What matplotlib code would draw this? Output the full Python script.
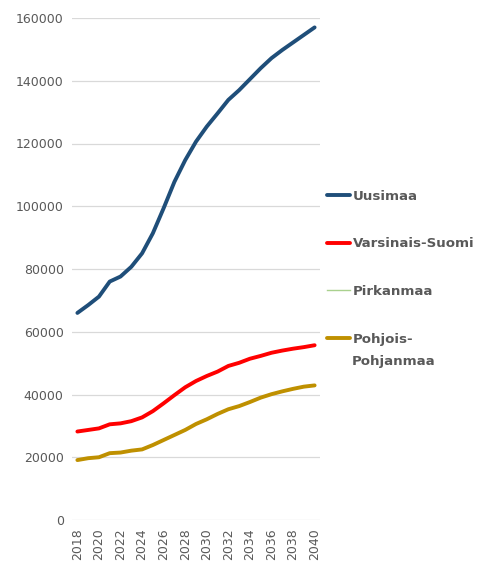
import matplotlib
matplotlib.use('Agg')
import matplotlib.pyplot as plt

years = list(range(2018, 2041))
uusimaa = [66000, 68500, 71200, 76000, 77600, 80700, 85000, 91400, 99400, 107800,
           114700, 120600, 125400, 129600, 133900, 137000, 140500, 144000, 147200,
           149800, 152200, 154600, 157000]
varsinais_suomi = [28200, 28700, 29200, 30500, 30800, 31500, 32700, 34700, 37200, 39800,
                   42300, 44300, 45900, 47300, 49100, 50100, 51400, 52300, 53300,
                   54000, 54600, 55100, 55700]
pirkanmaa = []
pohjois_pohjanmaa = [19100, 19700, 20000, 21300, 21500, 22100, 22500, 23900, 25500, 27100,
                     28700, 30600, 32100, 33800, 35300, 36300, 37600, 39000, 40100,
                     41000, 41800, 42500, 42900]
yticks = [0, 20000, 40000, 60000, 80000, 100000, 120000, 140000, 160000]
xticks = list(range(2018, 2041, 2))

grey = '#595959'
fig = plt.figure(figsize=(4.83, 5.69), dpi=100)
ax = fig.add_axes([72/483, 49/569, 248/483, 502/569])

ax.plot(years, uusimaa, color='#1F4E79', lw=2.8, label='Uusimaa', solid_capstyle='round')
ax.plot(years, varsinais_suomi, color='#FF0000', lw=2.8, label='Varsinais-Suomi', solid_capstyle='round')
ax.plot(years[:len(pirkanmaa)], pirkanmaa, color='#A9D18E', lw=1.0, label='Pirkanmaa')
ax.plot(years, pohjois_pohjanmaa, color='#BF9000', lw=2.8, label='Pohjois-', solid_capstyle='round')

ax.set_xlim(2017.5, 2040.5)
ax.set_ylim(0, 160000)
ax.set_yticks(yticks)
ax.set_yticklabels([str(v) for v in yticks])
ax.set_xticks(xticks)
ax.set_xticklabels([str(v) for v in xticks], rotation=90)
ax.tick_params(length=0, labelsize=9, labelcolor=grey, pad=6)
ax.grid(axis='y', color='#D9D9D9', lw=0.9)
ax.set_axisbelow(True)
for s in ax.spines.values():
    s.set_visible(False)

fig.legend(loc='upper left', bbox_to_anchor=(320/483, 1 - 183/569), frameon=False,
           handlelength=1.75, handletextpad=0.2, labelspacing=2.6, borderpad=0,
           prop={'weight': 'bold', 'size': 9.6}, labelcolor=grey)
# second line of the wrapped legend label
fig.text(352/483, 1 - 361/569, 'Pohjanmaa', color=grey, fontsize=9.6,
         fontweight='bold', va='center', ha='left')

plt.savefig('out.png', dpi=100)
